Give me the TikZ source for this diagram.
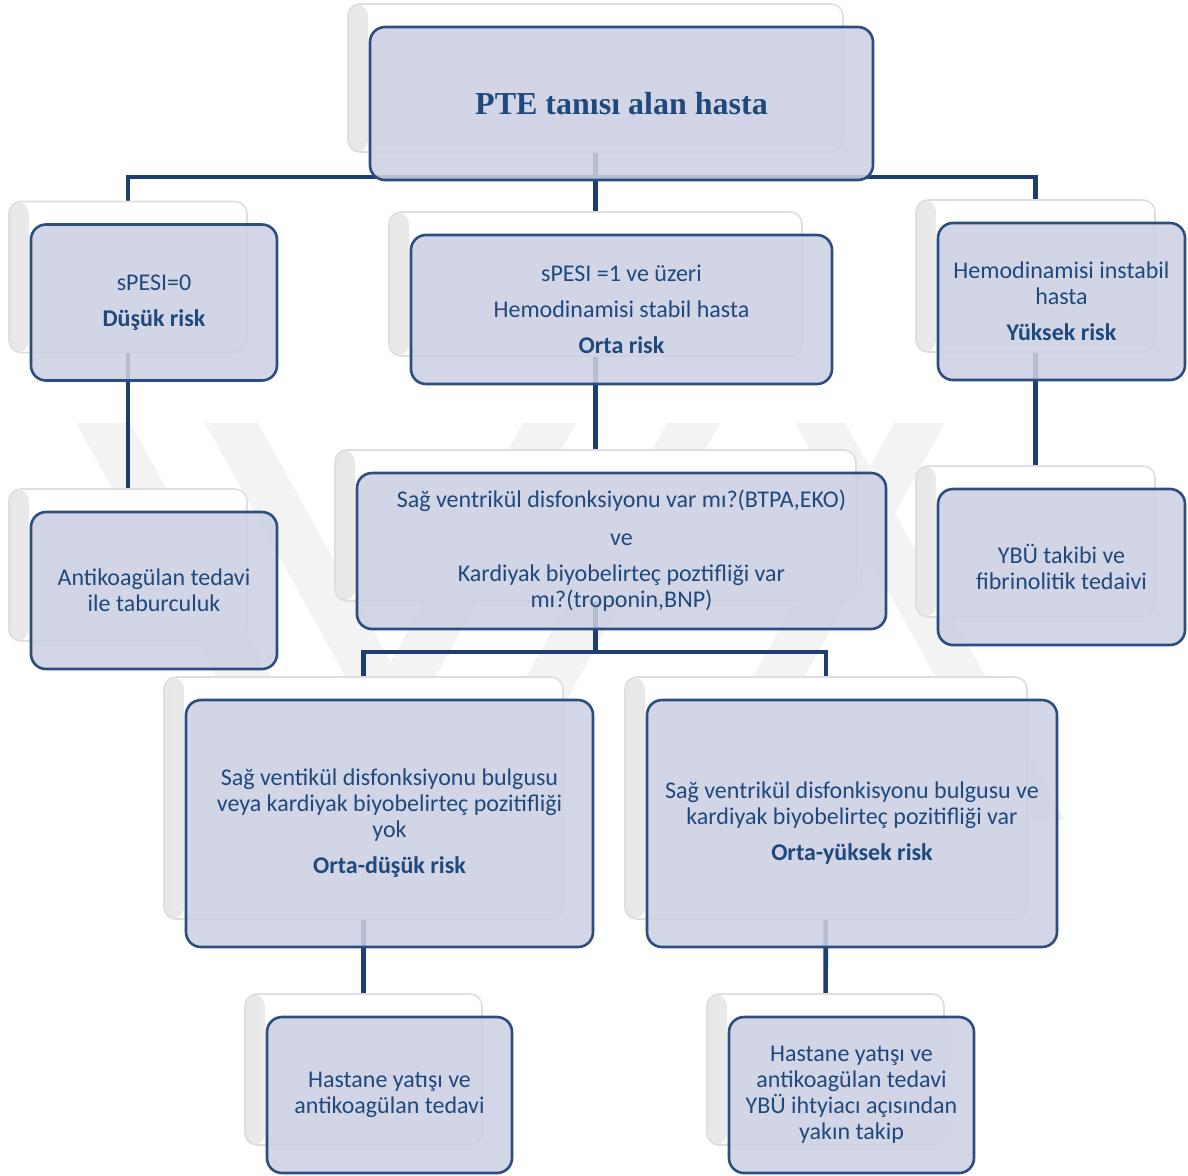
\documentclass[tikz,border=0pt]{standalone}
\usepackage{fontspec}
\setmainfont{Carlito}
\newfontfamily\titlefont{Liberation Serif}
\definecolor{txt}{HTML}{1F497D}
\definecolor{edgeclr}{HTML}{2C4D7E}
\definecolor{wireclr}{HTML}{1F3E70}
\definecolor{boxfill}{HTML}{CCD0E2}
\definecolor{wm}{HTML}{F3F3F3}
\pgfdeclarelayer{bg}
\pgfdeclarelayer{wires}
\pgfsetlayers{bg,wires,main}
\tikzset{
  shadowbox/.style={rounded corners=6pt, fill=white, draw=black!13, line width=0.8pt, inner sep=0pt,
    path picture={\shade[left color=black!9, right color=white]
      (path picture bounding box.south west) rectangle ([xshift=10pt]path picture bounding box.north west);}},
  frontbox/.style={rounded corners=7.5pt, draw=edgeclr, line width=1.3pt, fill=boxfill, fill opacity=0.88,
    text opacity=1, align=center, text=txt, inner sep=0pt, font=\fontsize{12}{13}\selectfont},
  conn/.style={draw=wireclr, line width=2.3pt, line join=miter},
}
\newcommand\pairbox[6]{%
  \node[shadowbox, minimum width={#4*0.5pt}, minimum height={#5*0.5pt}] (s#1) at (#2,#3) {};
  \node[frontbox, minimum width={(#4+8)*0.5pt}, minimum height={(#5+5)*0.5pt}] (#1) at (#2+26,#3+25.5) {#6};
}
\begin{document}
\begin{tikzpicture}[x=0.5pt,y=-0.5pt]
\useasboundingbox (0,0) rectangle (1188,1175);
% boxes
\pairbox{n1}{595.5}{78}{495}{148}{\titlefont\bfseries\fontsize{16}{19}\selectfont PTE tanısı alan hasta}
\pairbox{n2}{128}{277}{238}{151}{sPESI=0\\[5pt]\textbf{Düşük risk}}
\pairbox{n3}{595.5}{284}{413}{144}{sPESI =1 ve üzeri\\[5pt]Hemodinamisi stabil hasta\\[5pt]\textbf{Orta risk}}
\pairbox{n4}{1035.5}{276}{239}{152}{Hemodinamisi instabil\\hasta\\[5pt]\textbf{Yüksek risk}}
\pairbox{n5}{128}{565}{238}{152}{Antikoagülan tedavi\\ile taburculuk}
\pairbox{n6}{595.5}{525.5}{521}{151}{Sağ ventrikül disfonksiyonu var mı?(BTPA,EKO)\\[6pt]ve\\[5pt]Kardiyak biyobelirteç poztifliği var\\mı?(troponin,BNP)}
\pairbox{n7}{1035.5}{541.5}{239}{151}{YBÜ takibi ve\\fibrinolitik tedaivi}
\pairbox{n8}{363.5}{798}{399}{242}{Sağ ventikül disfonksiyonu bulgusu\\veya kardiyak biyobelirteç pozitifliği\\yok\\[5pt]\textbf{Orta-düşük risk}}
\pairbox{n9}{826}{798}{402}{242}{Sağ ventrikül disfonkisyonu bulgusu ve\\kardiyak biyobelirteç pozitifliği var\\[5pt]\textbf{Orta-yüksek risk}}
\pairbox{n10}{363.5}{1069.5}{237}{151}{Hastane yatışı ve\\antikoagülan tedavi}
\pairbox{n11}{825.5}{1069.5}{237}{151}{Hastane yatışı ve\\antikoagülan tedavi\\YBÜ ihtyiacı açısından\\yakın takip}
% watermark
\begin{pgfonlayer}{bg}
\fill[wm] (76,423) -- (130,423) -- (350,820) -- (296,820) -- cycle;
\fill[wm] (205,423) -- (258,423) -- (478,820) -- (425,820) -- cycle;
\fill[wm] (523,423) -- (576,423) -- (356,820) -- (303,820) -- cycle;
\fill[wm] (667,423) -- (720,423) -- (500,820) -- (447,820) -- cycle;
\fill[wm] (795,423) -- (845,423) -- (1065,820) -- (1015,820) -- cycle;
\fill[wm] (894,423) -- (945,423) -- (725,820) -- (674,820) -- cycle;
\end{pgfonlayer}
% connectors
\begin{pgfonlayer}{wires}
\coordinate (bus1) at (0,177);
\coordinate (bus2) at (0,652);
\draw[conn] (sn1.center) -- (sn3.center);
\draw[conn] (sn2.center) -- (sn2.center |- bus1) -- (sn4.center |- bus1) -- (sn4.center);
\draw[conn] (sn2.center) -- (sn5.center);
\draw[conn] (sn3.center) -- (sn6.center);
\draw[conn] (sn4.center) -- (sn7.center);
\draw[conn] (sn6.center) -- (sn6.center |- bus2);
\draw[conn] (sn8.center) -- (sn8.center |- bus2) -- (sn9.center |- bus2) -- (sn9.center);
\draw[conn] (sn8.center) -- (sn10.center);
\draw[conn] (sn9.center) -- (sn11.center);
\end{pgfonlayer}
\end{tikzpicture}
\end{document}
